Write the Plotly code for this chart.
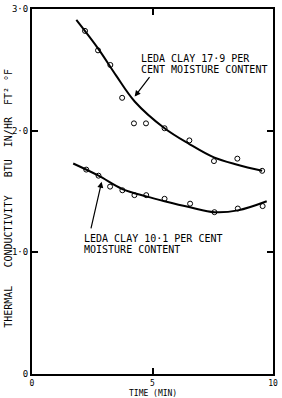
import plotly.graph_objects as go

# measured points
time_179 = [2.2, 2.74, 3.25, 3.74, 4.23, 4.73, 5.5, 6.53, 7.55, 8.52, 9.55]
k_179 = [2.82, 2.66, 2.54, 2.27, 2.06, 2.06, 2.02, 1.92, 1.75, 1.77, 1.67]
time_101 = [2.25, 2.76, 3.24, 3.75, 4.25, 4.74, 5.5, 6.56, 7.57, 8.54, 9.57]
k_101 = [1.68, 1.63, 1.54, 1.51, 1.47, 1.47, 1.44, 1.40, 1.33, 1.36, 1.38]

# hand-drawn fitted curves
fit_t_179 = [1.84, 2.76, 3.5, 4.26, 5.5, 6.53, 7.55, 8.52, 9.55]
fit_k_179 = [2.91, 2.67, 2.45, 2.24, 2.02, 1.89, 1.78, 1.72, 1.67]
fit_t_101 = [1.71, 2.76, 3.75, 4.74, 5.5, 6.56, 7.57, 8.54, 9.74]
fit_k_101 = [1.73, 1.63, 1.52, 1.46, 1.42, 1.37, 1.33, 1.345, 1.42]

x_ticks = [0, 5, 10]
x_labels = ["0", "5", "10"]
y_ticks = [0, 1, 2, 3]
y_labels = ["0", "1·0", "2·0", "3·0"]

FONT = "DejaVu Sans Mono"

fig = go.Figure()
fig.add_trace(go.Scatter(x=fit_t_179, y=fit_k_179, mode="lines",
                         line=dict(color="black", width=2, shape="spline"), showlegend=False))
fig.add_trace(go.Scatter(x=fit_t_101, y=fit_k_101, mode="lines",
                         line=dict(color="black", width=2, shape="spline"), showlegend=False))
fig.add_trace(go.Scatter(x=time_179, y=k_179, mode="markers",
                         marker=dict(symbol="circle-open", size=5, color="black", line=dict(width=1)),
                         showlegend=False))
fig.add_trace(go.Scatter(x=time_101, y=k_101, mode="markers",
                         marker=dict(symbol="circle-open", size=5, color="black", line=dict(width=1)),
                         showlegend=False))

ann_font = dict(family=FONT, size=10, color="black")
annotations = [
    dict(x=4.42, y=2.59, text="LEDA CLAY 17·9 PER", xanchor="left", yanchor="middle", showarrow=False, font=ann_font),
    dict(x=4.42, y=2.50, text="CENT MOISTURE CONTENT", xanchor="left", yanchor="middle", showarrow=False, font=ann_font),
    dict(x=2.06, y=1.116, text="LEDA CLAY 10·1 PER CENT", xanchor="left", yanchor="middle", showarrow=False, font=ann_font),
    dict(x=2.06, y=1.027, text="MOISTURE CONTENT", xanchor="left", yanchor="middle", showarrow=False, font=ann_font),
    dict(x=4.26, y=2.28, ax=16, ay=-21, text="", showarrow=True, arrowhead=2, arrowsize=1,
         arrowwidth=1.2, arrowcolor="black"),
    dict(x=2.89, y=1.58, ax=-11, ay=48, text="", showarrow=True, arrowhead=2, arrowsize=1,
         arrowwidth=1.2, arrowcolor="black"),
    dict(x=0.5, y=0, xref="paper", yref="paper", yshift=-19, text="TIME (MIN)", showarrow=False,
         xanchor="center", yanchor="middle", font=dict(family=FONT, size=8, color="black")),
    dict(x=0, y=0.48, xref="paper", yref="paper", xshift=-23,
         text="THERMAL   CONDUCTIVITY   BTU  IN/HR  FT² °F",
         textangle=-90, showarrow=False, xanchor="center", yanchor="middle",
         font=dict(family=FONT, size=10, color="black")),
]

fig.update_layout(
    width=282, height=398,
    margin=dict(l=32, r=4, t=5, b=24),
    paper_bgcolor="white", plot_bgcolor="white",
    annotations=annotations,
    font=dict(family=FONT, size=9, color="black"),
)
fig.update_xaxes(range=[0, 10], tickvals=x_ticks, ticktext=x_labels, ticks="inside", ticklen=6,
                 tickcolor="black", tickwidth=1.5, showline=True, linecolor="black", linewidth=2,
                 mirror="allticks", showgrid=False, zeroline=False,
                 tickfont=dict(family=FONT, size=8))
fig.update_yaxes(range=[0, 3], tickvals=y_ticks, ticktext=y_labels, ticks="inside", ticklen=6,
                 tickcolor="black", tickwidth=1.5, showline=True, linecolor="black", linewidth=2,
                 mirror="allticks", showgrid=False, zeroline=False,
                 tickfont=dict(family=FONT, size=9))

fig.write_html("out.html")
